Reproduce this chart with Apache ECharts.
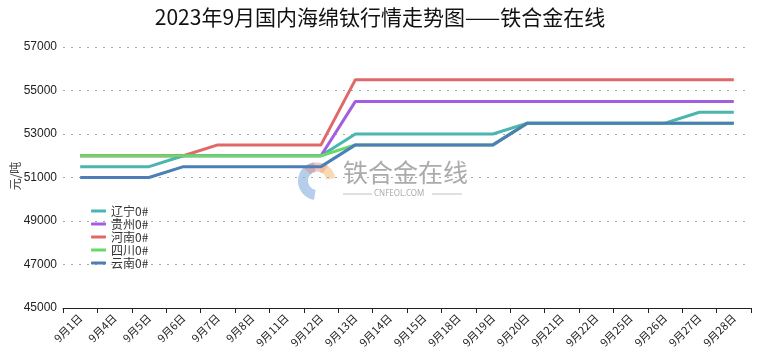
<!DOCTYPE html>
<html>
<head>
<meta charset="utf-8">
<script src="https://cdn.jsdelivr.net/npm/echarts@6/dist/echarts.min.js"></script>
<style>html,body{margin:0;padding:0;background:#fff}#c{width:760px;height:359px}</style>
</head>
<body>
<div id="c"></div>
<script>
const categories = ['9月1日','9月4日','9月5日','9月6日','9月7日','9月8日','9月11日','9月12日','9月13日','9月14日','9月15日','9月18日','9月19日','9月20日','9月21日','9月22日','9月25日','9月26日','9月27日','9月28日'];
const liaoning = [51500,51500,51500,52000,52000,52000,52000,52000,53000,53000,53000,53000,53000,53500,53500,53500,53500,53500,54000,54000];
const guizhou  = [52000,52000,52000,52000,52000,52000,52000,52000,54500,54500,54500,54500,54500,54500,54500,54500,54500,54500,54500,54500];
const henan    = [52000,52000,52000,52000,52500,52500,52500,52500,55500,55500,55500,55500,55500,55500,55500,55500,55500,55500,55500,55500];
const sichuan  = [52000,52000,52000,52000,52000,52000,52000,52000,52500,52500,52500,52500,52500,53500,53500,53500,53500,53500,53500,53500];
const yunnan   = [51000,51000,51000,51500,51500,51500,51500,51500,52500,52500,52500,52500,52500,53500,53500,53500,53500,53500,53500,53500];
const seriesNames = ['辽宁0#','贵州0#','河南0#','四川0#','云南0#'];
const seriesData = [liaoning, guizhou, henan, sichuan, yunnan];
const yAxisName = '元/吨';
const colors = ['#4bb5b0','#a25ee0','#e06868','#66d966','#4b7fb5'];

const chart = echarts.init(document.getElementById('c'));
chart.setOption({
  animation: false,
  color: colors,
  title: {
    text: '2023年9月国内海绵钛行情走势图——铁合金在线',
    left: 'center', top: 2,
    textStyle: {fontSize: 21, fontWeight: 'normal', color: '#111', fontFamily: 'Noto Sans CJK SC'}
  },
  legend: {
    orient: 'vertical', left: 86, top: 200, itemGap: 1,
    itemWidth: 15, itemHeight: 3, icon: 'roundRect',
    textStyle: {fontSize: 12, color: '#333', fontFamily: 'Noto Sans CJK SC'},
    data: seriesNames
  },
  grid: {left: 63, right: 9, top: 47, bottom: 51, containLabel: false, outerBoundsMode: 'none'},
  xAxis: {
    type: 'category', data: categories, boundaryGap: true,
    axisLine: {lineStyle: {color: '#222', width: 1}},
    axisTick: {show: true, length: 5, lineStyle: {color: '#222'}},
    axisLabel: {rotate: 45, fontSize: 11, color: '#222', margin: 8, interval: 0, fontFamily: 'Noto Sans CJK SC'}
  },
  yAxis: {
    type: 'value', min: 45000, max: 57000, interval: 2000,
    axisLine: {show: false}, axisTick: {show: false},
    axisLabel: {fontSize: 12, color: '#222', margin: 6, formatter: v => String(v)},
    splitLine: {lineStyle: {type: [2, 6], color: '#aaa', width: 1.2}}
  },
  graphic: [
    {type: 'text', x: 15, y: 176, rotation: Math.PI / 2, style: {text: yAxisName, fontSize: 12, fill: '#444', align: 'center', verticalAlign: 'middle', fontFamily: 'Noto Sans CJK SC'}},
    {type: 'arc', shape: {cx: 317, cy: 181, r: 14, startAngle: Math.PI*0.55, endAngle: Math.PI*1.45}, style: {stroke: 'rgba(120,165,220,0.55)', lineWidth: 10, fill: null}, z: 0},
    {type: 'arc', shape: {cx: 317, cy: 181, r: 14, startAngle: Math.PI*1.25, endAngle: Math.PI*1.7}, style: {stroke: 'rgba(235,140,130,0.5)', lineWidth: 9, fill: null}, z: 0},
    {type: 'arc', shape: {cx: 317, cy: 181, r: 14, startAngle: Math.PI*1.6, endAngle: Math.PI*1.95}, style: {stroke: 'rgba(245,180,110,0.5)', lineWidth: 9, fill: null}, z: 0},
    {type: 'text', left: 343, top: 160, style: {text: '铁合金在线', fontSize: 25, fill: 'rgba(150,150,150,0.8)', fontFamily: 'Noto Sans CJK SC'}, z: 0},
    {type: 'text', left: 374, top: 190, style: {text: 'CNFEOL.COM', fontSize: 8, fill: 'rgba(150,150,150,0.8)', fontFamily: 'Noto Sans'}, z: 0},
    {type: 'line', shape: {x1: 343, y1: 194, x2: 372, y2: 194}, style: {stroke: 'rgba(170,170,170,0.7)', lineWidth: 1}, z: 0},
    {type: 'line', shape: {x1: 432, y1: 194, x2: 462, y2: 194}, style: {stroke: 'rgba(170,170,170,0.7)', lineWidth: 1}, z: 0}
  ],
  series: seriesNames.map((n, i) => ({
    name: n, type: 'line', data: seriesData[i],
    showSymbol: false, symbol: 'none',
    lineStyle: {width: 3}, z: 2 + i
  }))
});
</script>
</body>
</html>
